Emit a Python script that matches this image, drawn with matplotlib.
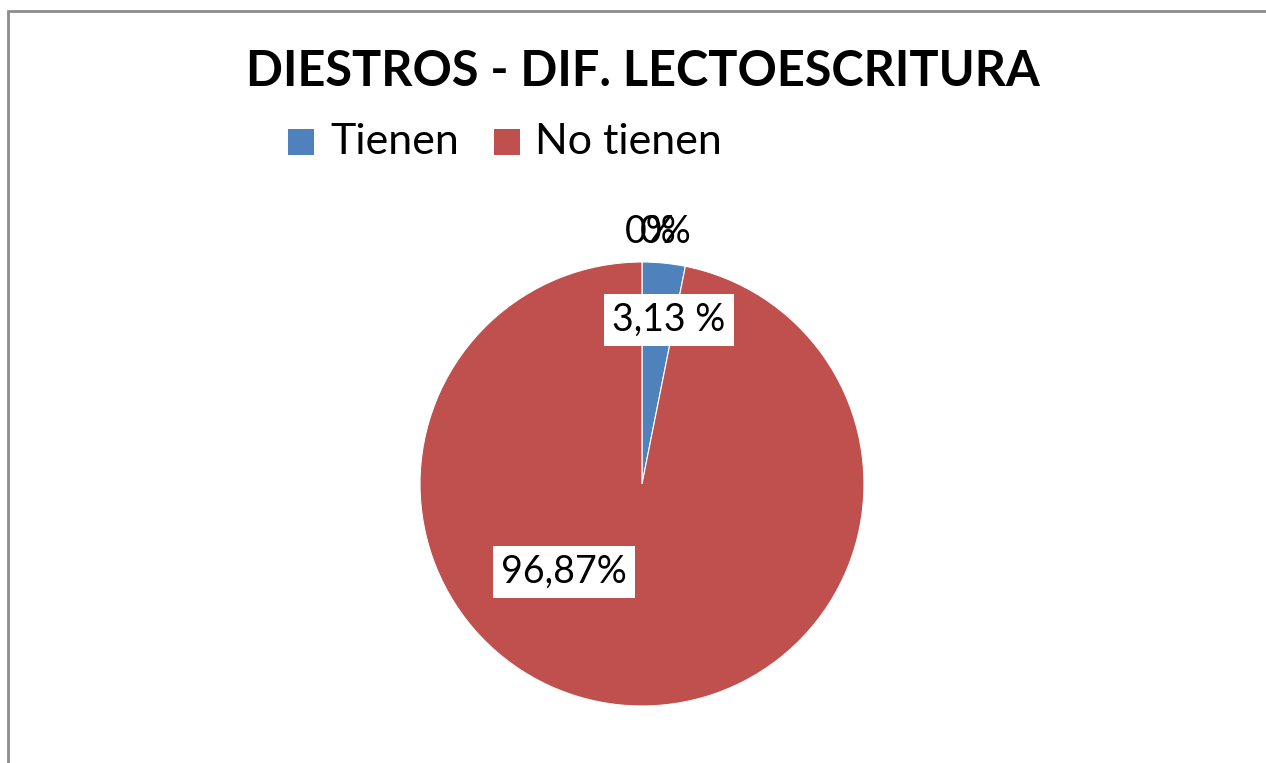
import matplotlib
matplotlib.use('agg')
import matplotlib.pyplot as plt
from matplotlib.patches import Rectangle

# data
categories = ['Tienen', 'No tienen']
values = [3.13, 96.87]
value_labels = ['3,13 %', '96,87%']
zero_labels = ['0%', '0%']
colors = ['#4F81BD', '#C0504D']
title = 'DIESTROS - DIF. LECTOESCRITURA'

W, H = 1266, 763
plt.rcParams['font.family'] = ['Lato', 'DejaVu Sans']

fig = plt.figure(figsize=(W / 100, H / 100), dpi=100)
ax = fig.add_axes([0, 0, 1, 1])

# chart frame (cut off at right and bottom)
ax.add_patch(Rectangle((8, -20), W + 20, H - 11 + 20, fill=False,
                       edgecolor='#8c8c8c', linewidth=2))

cx, cy, r = 642, H - 484, 222
wedges, _ = ax.pie(values, colors=colors, startangle=90, counterclock=False,
                   center=(cx, cy), radius=r, frame=True,
                   wedgeprops=dict(edgecolor='white', linewidth=0.8))
ax.set_xlim(0, W)
ax.set_ylim(0, H)
ax.set_aspect('equal')
ax.axis('off')

# data labels
label_pos = [(669, H - 320), (564, H - 572)]
for (x, y), lab in zip(label_pos, value_labels):
    ax.text(x, y, lab, ha='center', va='center', fontsize=27,
            bbox=dict(facecolor='white', edgecolor='none', pad=6))
# labels of the empty categories overlap each other
for x, lab in zip([651, 666], zero_labels):
    ax.text(x, H - 232, lab, ha='center', va='center', fontsize=27)

ax.text(643, H - 71, title, ha='center', va='center',
        fontsize=35, fontweight='bold')

# legend
lx = [288, 494]
tx = [330, 535]
for x0, t0, c, name in zip(lx, tx, colors, categories):
    ax.add_patch(Rectangle((x0, H - 155), 26, 26, facecolor=c, edgecolor='none'))
    ax.text(t0, H - 142, name, ha='left', va='center', fontsize=31)

fig.savefig('out.png', dpi=100)
